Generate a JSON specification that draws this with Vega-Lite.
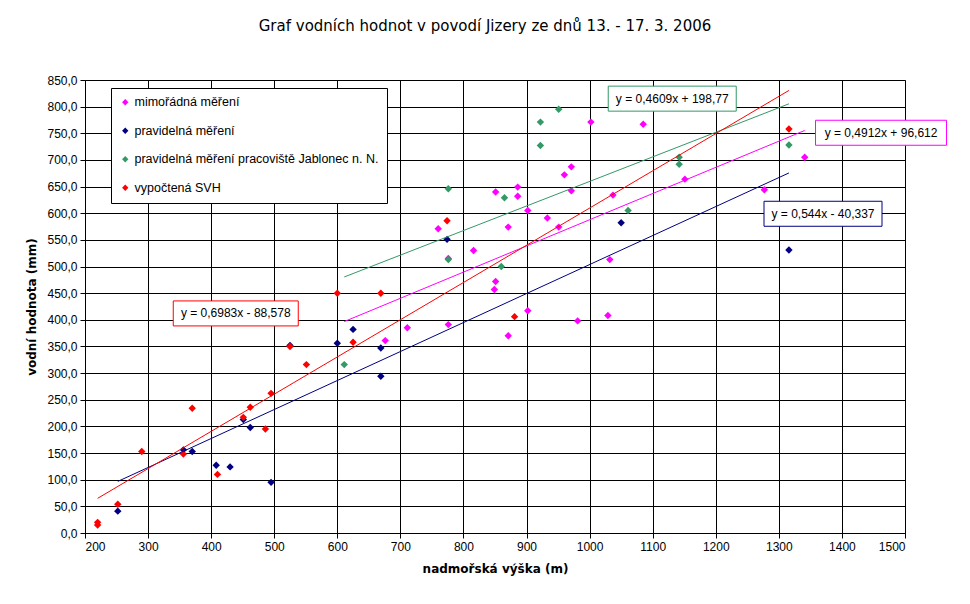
{
  "$schema": "https://vega.github.io/schema/vega-lite/v6.json",
  "width": 820,
  "height": 453,
  "autosize": {"type": "none"},
  "padding": {"left": 85, "top": 80, "right": 65, "bottom": 71},
  "background": "white",
  "title": {
    "text": "Graf vodních hodnot v povodí Jizery ze dnů 13. - 17. 3. 2006",
    "font": "DejaVu Sans",
    "fontSize": 15,
    "fontWeight": "normal",
    "color": "black",
    "anchor": "middle",
    "dx": -10,
    "offset": 40
  },
  "datasets": {
    "points": [
      {"series": "mimořádná měření", "x": 676, "y": 361},
      {"series": "mimořádná měření", "x": 711, "y": 385},
      {"series": "mimořádná měření", "x": 776, "y": 391},
      {"series": "mimořádná měření", "x": 816, "y": 530},
      {"series": "mimořádná měření", "x": 851, "y": 472},
      {"series": "mimořádná měření", "x": 849, "y": 457},
      {"series": "mimořádná měření", "x": 871, "y": 370},
      {"series": "mimořádná měření", "x": 902, "y": 417},
      {"series": "mimořádná měření", "x": 981, "y": 398},
      {"series": "mimořádná měření", "x": 1029, "y": 408},
      {"series": "mimořádná měření", "x": 1032, "y": 513},
      {"series": "mimořádná měření", "x": 760, "y": 571},
      {"series": "mimořádná měření", "x": 851, "y": 640},
      {"series": "mimořádná měření", "x": 886, "y": 649},
      {"series": "mimořádná měření", "x": 886, "y": 632},
      {"series": "mimořádná měření", "x": 902, "y": 605},
      {"series": "mimořádná měření", "x": 871, "y": 574},
      {"series": "mimořádná měření", "x": 933, "y": 591},
      {"series": "mimořádná měření", "x": 951, "y": 574},
      {"series": "mimořádná měření", "x": 960, "y": 672},
      {"series": "mimořádná měření", "x": 971, "y": 687},
      {"series": "mimořádná měření", "x": 971, "y": 642},
      {"series": "mimořádná měření", "x": 1002, "y": 771},
      {"series": "mimořádná měření", "x": 1037, "y": 634},
      {"series": "mimořádná měření", "x": 1085, "y": 767},
      {"series": "mimořádná měření", "x": 1151, "y": 664},
      {"series": "mimořádná měření", "x": 1277, "y": 644},
      {"series": "mimořádná měření", "x": 1341, "y": 705},
      {"series": "mimořádná měření", "x": 776, "y": 515},
      {"series": "pravidelná měření", "x": 252, "y": 41},
      {"series": "pravidelná měření", "x": 356, "y": 156},
      {"series": "pravidelná měření", "x": 370, "y": 153},
      {"series": "pravidelná měření", "x": 408, "y": 127},
      {"series": "pravidelná měření", "x": 430, "y": 124},
      {"series": "pravidelná měření", "x": 451, "y": 213},
      {"series": "pravidelná měření", "x": 462, "y": 198},
      {"series": "pravidelná měření", "x": 495, "y": 95},
      {"series": "pravidelná měření", "x": 525, "y": 352},
      {"series": "pravidelná měření", "x": 600, "y": 356},
      {"series": "pravidelná měření", "x": 625, "y": 382},
      {"series": "pravidelná měření", "x": 669, "y": 347},
      {"series": "pravidelná měření", "x": 669, "y": 294},
      {"series": "pravidelná měření", "x": 774, "y": 551},
      {"series": "pravidelná měření", "x": 1050, "y": 582},
      {"series": "pravidelná měření", "x": 1316, "y": 531},
      {"series": "pravidelná měření pracoviště Jablonec n. N.", "x": 611, "y": 316},
      {"series": "pravidelná měření pracoviště Jablonec n. N.", "x": 776, "y": 513},
      {"series": "pravidelná měření pracoviště Jablonec n. N.", "x": 860, "y": 500},
      {"series": "pravidelná měření pracoviště Jablonec n. N.", "x": 776, "y": 646},
      {"series": "pravidelná měření pracoviště Jablonec n. N.", "x": 865, "y": 629},
      {"series": "pravidelná měření pracoviště Jablonec n. N.", "x": 922, "y": 771},
      {"series": "pravidelná měření pracoviště Jablonec n. N.", "x": 951, "y": 795},
      {"series": "pravidelná měření pracoviště Jablonec n. N.", "x": 922, "y": 727},
      {"series": "pravidelná měření pracoviště Jablonec n. N.", "x": 1061, "y": 605},
      {"series": "pravidelná měření pracoviště Jablonec n. N.", "x": 1142, "y": 705},
      {"series": "pravidelná měření pracoviště Jablonec n. N.", "x": 1142, "y": 692},
      {"series": "pravidelná měření pracoviště Jablonec n. N.", "x": 1316, "y": 728},
      {"series": "vypočtená SVH", "x": 220, "y": 20},
      {"series": "vypočtená SVH", "x": 220, "y": 15},
      {"series": "vypočtená SVH", "x": 252, "y": 54},
      {"series": "vypočtená SVH", "x": 290, "y": 153},
      {"series": "vypočtená SVH", "x": 370, "y": 234},
      {"series": "vypočtená SVH", "x": 356, "y": 148},
      {"series": "vypočtená SVH", "x": 410, "y": 110},
      {"series": "vypočtená SVH", "x": 451, "y": 217},
      {"series": "vypočtená SVH", "x": 462, "y": 236},
      {"series": "vypočtená SVH", "x": 486, "y": 195},
      {"series": "vypočtená SVH", "x": 495, "y": 262},
      {"series": "vypočtená SVH", "x": 525, "y": 350},
      {"series": "vypočtená SVH", "x": 551, "y": 316},
      {"series": "vypočtená SVH", "x": 600, "y": 450},
      {"series": "vypočtená SVH", "x": 625, "y": 358},
      {"series": "vypočtená SVH", "x": 669, "y": 450},
      {"series": "vypočtená SVH", "x": 774, "y": 586},
      {"series": "vypočtená SVH", "x": 881, "y": 406},
      {"series": "vypočtená SVH", "x": 1316, "y": 758}
    ],
    "trend": [
      {"line": "mimořádná měření", "x": 611, "y": 396.7},
      {"line": "mimořádná měření", "x": 1341, "y": 755.3},
      {"line": "pravidelná měření", "x": 252, "y": 96.8},
      {"line": "pravidelná měření", "x": 1316, "y": 675.6},
      {"line": "pravidelná měření pracoviště Jablonec n. N.", "x": 611, "y": 480.4},
      {"line": "pravidelná měření pracoviště Jablonec n. N.", "x": 1316, "y": 805.3},
      {"line": "vypočtená SVH", "x": 220, "y": 65.0},
      {"line": "vypočtená SVH", "x": 1316, "y": 830.4}
    ],
    "labels": [
      {"series": "mimořádná měření", "x": 1462, "y": 751, "text": "y = 0,4912x + 96,612"},
      {"series": "pravidelná měření", "x": 1370, "y": 599, "text": "y = 0,544x - 40,337"},
      {"series": "pravidelná měření pracoviště Jablonec n. N.", "x": 1131, "y": 815, "text": "y = 0,4609x + 198,77"},
      {"series": "vypočtená SVH", "x": 439, "y": 412, "text": "y = 0,6983x - 88,578"}
    ]
  },
  "layer": [
    {
      "data": {"name": "points"},
      "mark": {"type": "point", "shape": "diamond", "filled": true, "size": 55, "opacity": 1},
      "encoding": {
        "x": {
          "field": "x", "type": "quantitative",
          "scale": {"domain": [200, 1500], "nice": false, "zero": false},
          "axis": {
            "title": "nadmořská výška (m)",
            "tickCount": 13,
            "format": "d",
            "titlePadding": 11
          }
        },
        "y": {
          "field": "y", "type": "quantitative",
          "scale": {"domain": [0, 850], "nice": false},
          "axis": {
            "title": "vodní hodnota (mm)",
            "tickCount": 17,
            "labelExpr": "replace(format(datum.value, '.1f'), '.', ',')",
            "titlePadding": 8
          }
        },
        "color": {
          "field": "series", "type": "nominal",
          "scale": {
            "domain": ["mimořádná měření", "pravidelná měření", "pravidelná měření pracoviště Jablonec n. N.", "vypočtená SVH"],
            "range": ["#FF00FF", "#000080", "#339966", "#FF0000"]
          },
          "legend": {
            "title": null,
            "symbolType": "diamond",
            "orient": "none",
            "legendX": 26,
            "legendY": 8,
            "padding": 8,
            "fillColor": "white",
            "strokeColor": "black",
            "labelFont": "Liberation Sans",
            "labelFontSize": 12.5,
            "labelColor": "black",
            "symbolSize": 40,
            "symbolStrokeWidth": 0,
            "rowPadding": 15.5,
            "labelOffset": 3,
            "labelLimit": 400
          }
        }
      }
    },
    {
      "data": {"name": "trend"},
      "mark": {"type": "line", "strokeWidth": 1},
      "encoding": {
        "x": {"field": "x", "type": "quantitative"},
        "y": {"field": "y", "type": "quantitative"},
        "stroke": {
          "field": "line", "type": "nominal",
          "scale": {
            "domain": ["mimořádná měření", "pravidelná měření", "pravidelná měření pracoviště Jablonec n. N.", "vypočtená SVH"],
            "range": ["#FF00FF", "#000080", "#339966", "#FF0000"]
          },
          "legend": null
        }
      }
    },
    {
      "data": {"name": "labels"},
      "transform": [{"filter": "datum.series == 'mimořádná měření'"}],
      "mark": {"type": "rect", "width": 131, "height": 25, "fill": "white", "stroke": "#FF00FF", "strokeWidth": 1},
      "encoding": {"x": {"field": "x", "type": "quantitative"}, "y": {"field": "y", "type": "quantitative"}}
    },
    {
      "data": {"name": "labels"},
      "transform": [{"filter": "datum.series == 'pravidelná měření'"}],
      "mark": {"type": "rect", "width": 118, "height": 25, "fill": "white", "stroke": "#000080", "strokeWidth": 1},
      "encoding": {"x": {"field": "x", "type": "quantitative"}, "y": {"field": "y", "type": "quantitative"}}
    },
    {
      "data": {"name": "labels"},
      "transform": [{"filter": "datum.series == 'pravidelná měření pracoviště Jablonec n. N.'"}],
      "mark": {"type": "rect", "width": 128, "height": 25, "fill": "white", "stroke": "#339966", "strokeWidth": 1},
      "encoding": {"x": {"field": "x", "type": "quantitative"}, "y": {"field": "y", "type": "quantitative"}}
    },
    {
      "data": {"name": "labels"},
      "transform": [{"filter": "datum.series == 'vypočtená SVH'"}],
      "mark": {"type": "rect", "width": 125, "height": 25, "fill": "white", "stroke": "#FF0000", "strokeWidth": 1},
      "encoding": {"x": {"field": "x", "type": "quantitative"}, "y": {"field": "y", "type": "quantitative"}}
    },
    {
      "data": {"name": "labels"},
      "mark": {"type": "text", "font": "Liberation Sans", "fontSize": 12, "color": "black", "align": "center", "baseline": "middle"},
      "encoding": {
        "x": {"field": "x", "type": "quantitative"},
        "y": {"field": "y", "type": "quantitative"},
        "text": {"field": "text"}
      }
    }
  ],
  "config": {
    "view": {"stroke": "#808080", "strokeWidth": 1},
    "axis": {
      "domainColor": "black",
      "domainWidth": 1,
      "gridColor": "black",
      "gridOpacity": 1,
      "gridWidth": 1,
      "tickColor": "black",
      "tickSize": 5,
      "labelFont": "Liberation Sans",
      "labelFontSize": 12,
      "labelColor": "black",
      "labelPadding": 3,
      "titleFont": "DejaVu Sans",
      "titleFontSize": 12,
      "titleFontWeight": "bold",
      "titleColor": "black"
    }
  }
}
